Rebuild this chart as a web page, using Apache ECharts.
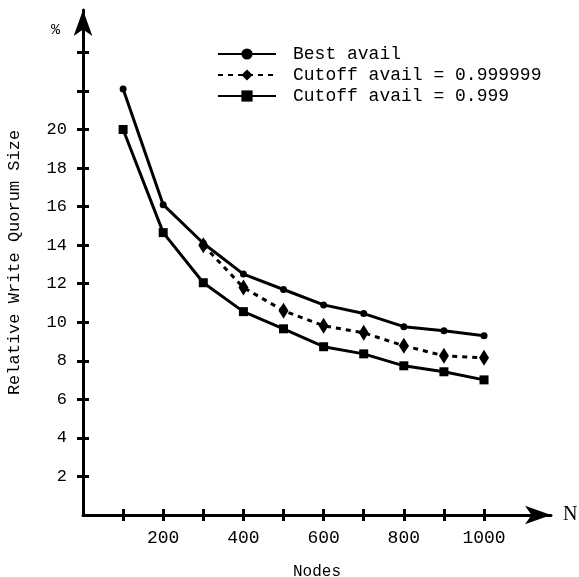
<!DOCTYPE html>
<html>
<head>
<meta charset="utf-8">
<script src="https://cdn.jsdelivr.net/npm/echarts@6/dist/echarts.min.js"></script>
<style>
  html, body { margin: 0; padding: 0; background: #fff; }
  #chart { width: 579px; height: 577px; }
</style>
</head>
<body>
<div id="chart"></div>
<script>
// nodes on the x axis
const nodes = [100, 200, 300, 400, 500, 600, 700, 800, 900, 1000];
// relative write quorum size (%)
const bestAvail = [22.1, 16.1, 14.1, 12.5, 11.7, 10.9, 10.45, 9.77, 9.56, 9.3];
const cutoff999999 = [null, null, 14.0, 11.8, 10.6, 9.82, 9.45, 8.78, 8.26, 8.16];
const cutoff999 = [20.0, 14.65, 12.05, 10.55, 9.66, 8.73, 8.36, 7.74, 7.43, 7.01];

const xTicks = [100, 200, 300, 400, 500, 600, 700, 800, 900, 1000];
const xLabels = [200, 400, 600, 800, 1000];
const yTicks = [2, 4, 6, 8, 10, 12, 14, 16, 18, 20, 22, 24];
const yLabels = [2, 4, 6, 8, 10, 12, 14, 16, 18, 20];

const mono = 'Liberation Mono';
const ink = '#000';

const chart = echarts.init(document.getElementById('chart'));

const pair = (arr) => nodes.map((n, i) => [n, arr[i]]);

const baseX = {
    type: 'value',
    min: 0,
    max: 1167,
    splitLine: { show: false },
    axisLine: { show: false },
    axisTick: { show: true, customValues: xTicks, length: 6, lineStyle: { color: ink, width: 3 } },
    axisLabel: { show: false }
};
const baseY = {
    type: 'value',
    min: 0,
    max: 26.2,
    splitLine: { show: false },
    axisLine: { show: false },
    axisTick: { show: true, customValues: yTicks, length: 6, lineStyle: { color: ink, width: 3 } },
    axisLabel: { show: false }
};

chart.setOption({
    animation: false,
    backgroundColor: '#fff',
    grid: { left: 83, top: 10, right: 28, bottom: 62, outerBoundsMode: 'none' },
    legend: {
        left: 212,
        top: 40,
        orient: 'vertical',
        itemGap: 3,
        itemWidth: 58,
        itemHeight: 14,
        textStyle: { fontFamily: mono, fontSize: 18, color: ink, padding: [0, 0, 0, 12] },
        data: ['Best avail', 'Cutoff avail = 0.999999', 'Cutoff avail = 0.999']
    },
    xAxis: [
        {
            ...baseX,
            axisLine: {
                show: true,
                symbol: ['none', 'arrow'],
                symbolSize: [14, 26],
                lineStyle: { color: ink, width: 3 }
            },
            axisTick: { ...baseX.axisTick, inside: false },
            axisLabel: {
                show: true,
                customValues: xLabels,
                formatter: (v) => String(v),
                margin: 14,
                fontFamily: mono,
                fontSize: 18,
                color: ink
            },
            name: 'N',
            nameLocation: 'end',
            nameGap: 12,
            nameTextStyle: { fontFamily: 'Liberation Serif', fontSize: 20, color: ink, verticalAlign: 'middle', padding: [8, 0, 0, 0] }
        },
        {
            ...baseX,
            position: 'bottom',
            axisTick: { ...baseX.axisTick, inside: true },
            name: 'Nodes',
            nameLocation: 'middle',
            nameGap: 49,
            nameTextStyle: { fontFamily: mono, fontSize: 16, color: ink }
        }
    ],
    yAxis: [
        {
            ...baseY,
            axisLine: {
                show: true,
                symbol: ['none', 'arrow'],
                symbolSize: [14, 26],
                lineStyle: { color: ink, width: 3 }
            },
            axisTick: { ...baseY.axisTick, inside: false },
            axisLabel: {
                show: true,
                customValues: yLabels,
                margin: 16,
                fontFamily: mono,
                fontSize: 17,
                color: ink
            },
            name: 'Relative Write Quorum Size',
            nameLocation: 'middle',
            nameGap: 60,
            nameTextStyle: { fontFamily: mono, fontSize: 17, color: ink }
        },
        {
            ...baseY,
            position: 'left',
            axisTick: { ...baseY.axisTick, inside: true }
        }
    ],
    graphic: [
        {
            type: 'text',
            left: 51,
            top: 23,
            style: { text: '%', fontFamily: mono, fontSize: 15, fill: ink }
        }
    ],
    series: [
        {
            name: 'Best avail',
            type: 'line',
            data: pair(bestAvail),
            symbol: 'circle',
            symbolSize: 7,
            itemStyle: { color: ink },
            lineStyle: { color: ink, width: 3 }
        },
        {
            name: 'Cutoff avail = 0.999999',
            type: 'line',
            data: pair(cutoff999999),
            symbol: 'diamond',
            symbolSize: [10, 16],
            itemStyle: { color: ink },
            lineStyle: { color: ink, width: 3, type: [5, 5] }
        },
        {
            name: 'Cutoff avail = 0.999',
            type: 'line',
            data: pair(cutoff999),
            symbol: 'rect',
            symbolSize: 9,
            itemStyle: { color: ink },
            lineStyle: { color: ink, width: 3 }
        }
    ]
});
</script>
</body>
</html>
